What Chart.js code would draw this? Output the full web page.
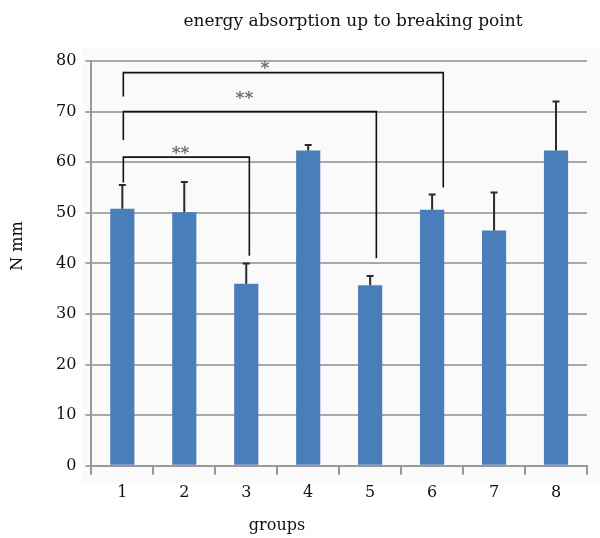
<!DOCTYPE html>
<html>
<head>
<meta charset="utf-8">
<script src="https://cdn.jsdelivr.net/npm/chart.js@4.4.0/dist/chart.umd.min.js"></script>
<style>
  body { margin: 0; background: #fff; }
  #wrap { width: 600px; height: 538px; position: relative; }
</style>
</head>
<body>
<div id="wrap"><canvas id="chart"></canvas></div>
<script>
// data
const groups = ['1', '2', '3', '4', '5', '6', '7', '8'];
const means = [50.8, 50.1, 36.0, 62.3, 35.7, 50.6, 46.5, 62.3];
const errors = [4.7, 6.0, 4.0, 1.1, 1.8, 3.0, 7.5, 9.7];

// significance brackets: start group, end group, left foot, right foot, bar height, label
const bracketFrom = [0, 0, 0];
const bracketTo = [2.05, 4.1, 5.18];
const bracketLeftFoot = [56, 64.4, 73];
const bracketRightFoot = [41.5, 41, 55];
const bracketTop = [61, 70, 77.7];
const bracketLabel = ['**', '**', '*'];
const bracketLabelX = [0.94, 1.97, 2.3];
const bracketLabelY = [62.8, 73.6, 79.6];

const serif = "'DejaVu Serif', serif";

const overlay = {
  id: 'overlay',
  beforeDraw(chart) {
    const { ctx, chartArea: a } = chart;
    ctx.save();
    ctx.fillStyle = '#fafafa';
    ctx.fillRect(a.left - 9, a.top - 14, chart.width - a.left + 9, a.bottom - a.top + 31);
    ctx.restore();
  },
  afterDatasetsDraw(chart) {
    const { ctx, scales: { x, y } } = chart;
    const meta = chart.getDatasetMeta(0);
    ctx.save();
    // error bars
    ctx.strokeStyle = '#2b2b2b';
    ctx.lineWidth = 2;
    meta.data.forEach((bar, i) => {
      const top = y.getPixelForValue(means[i] + errors[i]);
      ctx.beginPath();
      ctx.moveTo(bar.x, bar.y);
      ctx.lineTo(bar.x, top);
      ctx.moveTo(bar.x - 3.5, top);
      ctx.lineTo(bar.x + 3.5, top);
      ctx.stroke();
    });
    // brackets
    ctx.strokeStyle = '#111';
    ctx.lineWidth = 1.6;
    ctx.fillStyle = '#666';
    ctx.font = 'bold 17px ' + serif;
    ctx.textAlign = 'center';
    ctx.textBaseline = 'alphabetic';
    for (let i = 0; i < bracketLabel.length; i++) {
      const x1 = x.getPixelForValue(bracketFrom[i]) + 1;
      const x2 = x.getPixelForValue(bracketTo[i]);
      const yt = y.getPixelForValue(bracketTop[i]);
      ctx.beginPath();
      ctx.moveTo(x1, y.getPixelForValue(bracketLeftFoot[i]));
      ctx.lineTo(x1, yt);
      ctx.lineTo(x2, yt);
      ctx.lineTo(x2, y.getPixelForValue(bracketRightFoot[i]));
      ctx.stroke();
      ctx.fillText(bracketLabel[i], x.getPixelForValue(bracketLabelX[i]), y.getPixelForValue(bracketLabelY[i]) + 10);
    }
    ctx.restore();
  },
  afterDraw(chart) {
    const { ctx } = chart;
    ctx.save();
    ctx.fillStyle = '#111';
    ctx.textAlign = 'center';
    ctx.textBaseline = 'middle';
    ctx.font = '17px ' + serif;
    ctx.fillText('energy absorption up to breaking point', 353, 22);
    ctx.font = '16px ' + serif;
    ctx.fillText('groups', 277, 526);
    ctx.translate(18, 246);
    ctx.rotate(-Math.PI / 2);
    ctx.fillText('N mm', 0, 0);
    ctx.restore();
  }
};

new Chart(document.getElementById('chart').getContext('2d'), {
  type: 'bar',
  data: {
    labels: groups,
    datasets: [
      {
        label: 'N mm',
        data: means,
        backgroundColor: '#4a7ebb',
        barPercentage: 0.39,
        categoryPercentage: 1
      }
    ]
  },
  options: {
    responsive: true,
    maintainAspectRatio: false,
    animation: false,
    layout: { padding: { left: 47, right: 13, top: 61, bottom: 28 } },
    plugins: {
      legend: { display: false },
      tooltip: { enabled: false },
      title: { display: false }
    },
    scales: {
      x: {
        grid: {
          drawOnChartArea: false,
          color: '#999',
          lineWidth: 2,
          tickLength: 9
        },
        border: { color: '#999', width: 2 },
        ticks: { color: '#111', font: { family: serif, size: 16 }, padding: 8 }
      },
      y: {
        min: 0,
        max: 80,
        ticks: { stepSize: 10, color: '#111', font: { family: serif, size: 16 }, padding: 9 },
        grid: { color: '#a8a8a8', lineWidth: 2, tickLength: 6 },
        border: { color: '#999', width: 2 }
      }
    }
  },
  plugins: [overlay]
});
</script>
</body>
</html>
